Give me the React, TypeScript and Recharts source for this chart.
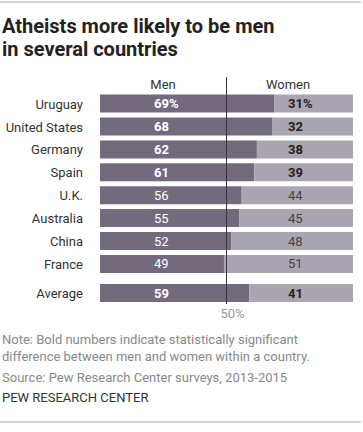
import { BarChart, Bar, XAxis, YAxis, ReferenceLine, LabelList } from "recharts";

const countries = ["Uruguay", "United States", "Germany", "Spain", "U.K.", "Australia", "China", "France", "Average"];
// row positions on the category axis (Average sits a bit apart)
const rowPos = [0, 1, 2, 3, 4, 5, 6, 7, 8.27];
const men = [69, 68, 62, 61, 56, 55, 52, 49, 59];
const women = [31, 32, 38, 39, 44, 45, 48, 51, 41];
const significant = [true, true, true, true, false, false, false, false, true];

const data = countries.map((name, i) => ({
  name,
  pos: rowPos[i],
  men: men[i],
  women: women[i],
}));

const FONT = "Roboto, 'Noto Sans', sans-serif";

const MenLabel = (props: any) => {
  const { x, y, height, value, index } = props;
  const bold = significant[index];
  return (
    <text
      x={x + 54}
      y={y + height / 2}
      dominantBaseline="central"
      fontSize={13}
      fontWeight={bold ? 700 : 400}
      fill="#ffffff"
      fontFamily={FONT}
    >
      {index === 0 ? value + "%" : value}
    </text>
  );
};

const WomenLabel = (props: any) => {
  const { x, y, width, height, value, index } = props;
  const bold = significant[index];
  return (
    <text
      x={x + width - 65}
      y={y + height / 2}
      dominantBaseline="central"
      fontSize={13}
      fontWeight={bold ? 700 : 400}
      fill={bold ? "#222" : "#444"}
      fontFamily={FONT}
    >
      {index === 0 ? value + "%" : value}
    </text>
  );
};

export default function App() {
  return (
    <div style={{ position: "relative", width: 363, height: 432, background: "#fff", fontFamily: FONT }}>
      <style>{"body{margin:0}"}</style>
      <div style={{ position: "absolute", left: 0, top: 1, width: 361, height: 2, background: "#d4d4d4" }} />
      <div
        style={{
          position: "absolute",
          left: 2,
          top: 15,
          fontSize: 20,
          fontWeight: 700,
          lineHeight: "23px",
          color: "#222",
        }}
      >
        Atheists more likely to be men
        <br />
        in several countries
      </div>

      <div style={{ position: "absolute", left: 0, top: 0 }}>
        <BarChart
          width={363}
          height={432}
          data={data}
          layout="vertical"
          margin={{ top: 77, right: 10, bottom: 128, left: 0 }}
        >
          <XAxis type="number" domain={[0, 100]} hide />
          <YAxis
            type="number"
            dataKey="pos"
            domain={[-1.18, 8.73]}
            ticks={rowPos}
            interval={0}
            width={100}
            axisLine={false}
            tickLine={false}
            tickMargin={11}
            tick={{ fill: "#333", fontSize: 13, fontFamily: FONT }}
            tickFormatter={(v: number) => countries[rowPos.indexOf(v)]}
          />
          <Bar dataKey="men" stackId="a" fill="#746a7e" barSize={18} isAnimationActive={false}>
            <LabelList dataKey="men" content={MenLabel} />
          </Bar>
          <Bar dataKey="women" stackId="a" fill="#aba4b1" barSize={18} isAnimationActive={false}>
            <LabelList dataKey="women" content={WomenLabel} />
          </Bar>
          <ReferenceLine
            x={50}
            stroke="#3b3340"
            strokeWidth={1}
            label={{ value: "50%", position: "bottom", dx: 6, fill: "#999", fontSize: 13, fontFamily: FONT }}
          />
        </BarChart>
      </div>

      <div style={{ position: "absolute", left: 138, top: 77, width: 50, textAlign: "center", fontSize: 13, color: "#333" }}>Men</div>
      <div style={{ position: "absolute", left: 258, top: 77, width: 60, textAlign: "center", fontSize: 13, color: "#333" }}>Women</div>

      <div style={{ position: "absolute", left: 2, top: 332, fontSize: 13, lineHeight: "16.5px", color: "#888" }}>
        Note: Bold numbers indicate statistically significant
        <br />
        difference between men and women within a country.
      </div>
      <div style={{ position: "absolute", left: 2, top: 370, fontSize: 13, color: "#888" }}>
        Source: Pew Research Center surveys, 2013-2015
      </div>
      <div style={{ position: "absolute", left: 2, top: 390, fontSize: 13, color: "#333" }}>PEW RESEARCH CENTER</div>
      <div style={{ position: "absolute", left: 0, top: 421, width: 361, height: 2, background: "#d4d4d4" }} />
    </div>
  );
}
